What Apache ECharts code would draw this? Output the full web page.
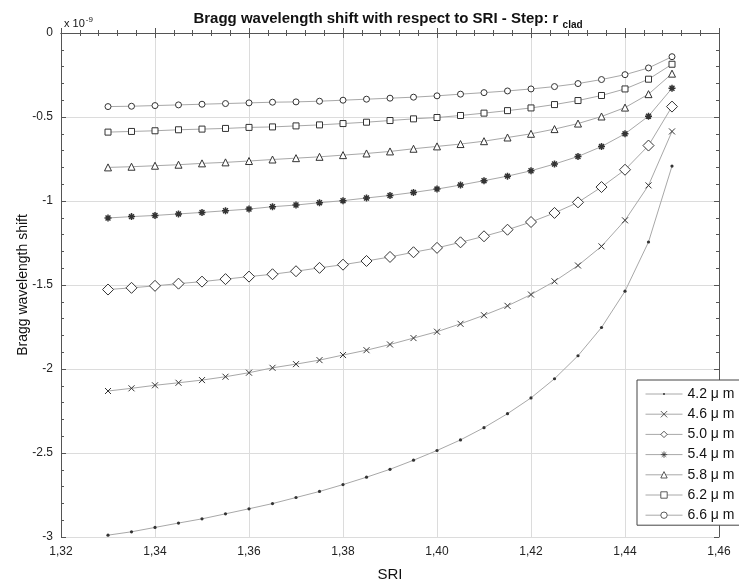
<!DOCTYPE html>
<html>
<head>
<meta charset="utf-8">
<script src="https://cdn.jsdelivr.net/npm/echarts@6/dist/echarts.min.js"></script>
<style>
  html, body { margin: 0; padding: 0; background: #fff; }
  #chart { width: 739px; height: 587px; }
</style>
</head>
<body>
<div id="chart"></div>
<script>
// SRI values (x)
const sri = [1.330, 1.335, 1.340, 1.345, 1.350, 1.355, 1.360, 1.365, 1.370, 1.375,
             1.380, 1.385, 1.390, 1.395, 1.400, 1.405, 1.410, 1.415, 1.420, 1.425,
             1.430, 1.435, 1.440, 1.445, 1.450];

// shift values in units of 1e-9
const r42 = [-2.989, -2.969, -2.943, -2.917, -2.892, -2.862, -2.832, -2.801, -2.765, -2.729,
             -2.688, -2.644, -2.597, -2.543, -2.485, -2.422, -2.349, -2.266, -2.172, -2.058,
             -1.921, -1.753, -1.537, -1.244, -0.792];
const r46 = [-2.131, -2.115, -2.097, -2.082, -2.066, -2.046, -2.022, -1.993, -1.971, -1.947,
             -1.917, -1.888, -1.854, -1.816, -1.778, -1.731, -1.680, -1.624, -1.557, -1.478,
             -1.384, -1.270, -1.115, -0.907, -0.586];
const r50 = [-1.527, -1.517, -1.505, -1.492, -1.480, -1.465, -1.450, -1.436, -1.418, -1.398,
             -1.379, -1.357, -1.333, -1.305, -1.279, -1.246, -1.210, -1.171, -1.125, -1.071,
             -1.008, -0.917, -0.814, -0.670, -0.438];
const r54 = [-1.101, -1.093, -1.086, -1.077, -1.068, -1.058, -1.048, -1.034, -1.024, -1.010,
             -0.998, -0.982, -0.967, -0.949, -0.929, -0.905, -0.879, -0.852, -0.820, -0.780,
             -0.735, -0.676, -0.600, -0.495, -0.329];
const r58 = [-0.800, -0.796, -0.790, -0.784, -0.776, -0.770, -0.762, -0.753, -0.745, -0.737,
             -0.727, -0.717, -0.705, -0.689, -0.675, -0.661, -0.644, -0.622, -0.600, -0.572,
             -0.539, -0.497, -0.444, -0.364, -0.242];
const r62 = [-0.590, -0.586, -0.582, -0.576, -0.572, -0.568, -0.562, -0.559, -0.553, -0.547,
             -0.539, -0.531, -0.521, -0.511, -0.503, -0.491, -0.477, -0.462, -0.446, -0.426,
             -0.402, -0.372, -0.333, -0.275, -0.186];
const r66 = [-0.438, -0.436, -0.432, -0.428, -0.424, -0.420, -0.416, -0.412, -0.410, -0.406,
             -0.400, -0.394, -0.388, -0.382, -0.374, -0.364, -0.355, -0.345, -0.333, -0.319,
             -0.301, -0.277, -0.248, -0.208, -0.141];

const names = ['4.2 μ m', '4.6 μ m', '5.0 μ m', '5.4 μ m', '5.8 μ m', '6.2 μ m', '6.6 μ m'];
const values = [r42, r46, r50, r54, r58, r62, r66];

const FONT = '"Liberation Sans", Arial, sans-serif';
const MARK = '#333';
const LINE = '#a8a8a8';

// marker look per series (the dot is padded so the legend keeps it small)
const markers = [
  { symbol: 'path://M0 0 M10 10 M3.4 5 A1.6 1.6 0 1 0 6.6 5 A1.6 1.6 0 1 0 3.4 5 Z', size: 10, fill: MARK, bw: 0 },
  { symbol: 'path://M0 0 L10 10 M10 0 L0 10', size: 6, fill: MARK, bw: 1 },
  { symbol: 'diamond', size: 11, fill: '#fff', bw: 1 },
  { symbol: 'path://M5 0 L5 10 M0 5 L10 5 M1.5 1.5 L8.5 8.5 M8.5 1.5 L1.5 8.5', size: 7, fill: MARK, bw: 1.5 },
  { symbol: 'triangle', size: 7, fill: '#fff', bw: 1 },
  { symbol: 'rect', size: 6, fill: '#fff', bw: 1 },
  { symbol: 'circle', size: 6, fill: '#fff', bw: 1 }
];

const series = values.map((vals, k) => ({
  name: names[k],
  type: 'line',
  data: sri.map((x, i) => [x, vals[i]]),
  symbol: markers[k].symbol,
  symbolSize: markers[k].size,
  showAllSymbol: true,
  lineStyle: { color: LINE, width: 1 },
  itemStyle: { color: markers[k].fill, borderColor: MARK, borderWidth: markers[k].bw },
  emphasis: { disabled: true },
  z: 3 + k
}));

const legendData = names.map((n, k) => ({
  name: n,
  itemStyle: { color: markers[k].fill, borderColor: MARK, borderWidth: markers[k].bw ? 0.8 : 0 },
  lineStyle: { color: LINE, width: 1 }
}));

const chart = echarts.init(document.getElementById('chart'), null, { renderer: 'canvas' });

const boxAxis = {
  axisLine: { show: true, lineStyle: { color: '#555', width: 1 } },
  axisTick: { show: true, inside: true, length: 5, lineStyle: { color: '#555' } },
  minorTick: { show: true, splitNumber: 5, length: 3, lineStyle: { color: '#555' } },
  axisLabel: { show: false },
  splitLine: { show: false }
};

chart.setOption({
  backgroundColor: '#fff',
  animation: false,
  textStyle: { fontFamily: FONT },
  title: [
    {
      text: 'Bragg wavelength shift with respect to SRI - Step: r {sub|clad}',
      left: 383, top: 3, textAlign: 'center',
      textStyle: {
        fontFamily: FONT, fontSize: 15, fontWeight: 'bold', color: '#111',
        rich: { sub: { fontFamily: FONT, fontSize: 10, fontWeight: 'bold', color: '#111', verticalAlign: 'bottom', padding: [12, 0, 0, 0] } }
      }
    },
    {
      text: 'x 10{sup|-9}',
      left: 59, top: 11,
      textStyle: {
        fontFamily: FONT, fontSize: 11, fontWeight: 'normal', color: '#111',
        rich: { sup: { fontFamily: FONT, fontSize: 8, color: '#111', verticalAlign: 'top', padding: [0, 0, 8, 1] } }
      }
    }
  ],
  grid: { left: 61, right: 20, top: 33, bottom: 49, containLabel: false },
  legend: {
    orient: 'vertical',
    left: 637, top: 380,
    itemWidth: 37, itemHeight: 8, itemGap: 6.2,
    padding: [7, 20, 3, 8],
    backgroundColor: '#fff',
    borderColor: '#444', borderWidth: 1, borderRadius: 0,
    lineStyle: { color: LINE, width: 1 },
    textStyle: { fontFamily: FONT, fontSize: 14, lineHeight: 14, color: '#111' },
    data: legendData
  },
  xAxis: [
    {
      type: 'value', min: 1.32, max: 1.46, interval: 0.02,
      name: 'SRI', nameLocation: 'middle', nameGap: 30, nameMoveOverlap: false,
      nameTextStyle: { fontFamily: FONT, fontSize: 15, color: '#111' },
      axisLine: { show: true, lineStyle: { color: '#555', width: 1 } },
      axisTick: { show: true, inside: true, length: 5, lineStyle: { color: '#555' } },
      minorTick: { show: true, splitNumber: 5, length: 3, lineStyle: { color: '#555' } },
      axisLabel: {
        fontFamily: FONT, fontSize: 12, color: '#222', margin: 9,
        formatter: v => v.toFixed(2).replace('.', ',')
      },
      splitLine: { show: true, lineStyle: { color: '#dcdcdc', width: 1 } }
    },
    Object.assign({ type: 'value', position: 'top', min: 1.32, max: 1.46, interval: 0.02 }, boxAxis)
  ],
  yAxis: [
    {
      type: 'value', min: -3, max: 0, interval: 0.5,
      name: 'Bragg wavelength shift', nameLocation: 'middle', nameGap: 31, nameRotate: 90,
      nameMoveOverlap: false,
      nameTextStyle: { fontFamily: FONT, fontSize: 14, color: '#111' },
      axisLine: { show: true, lineStyle: { color: '#555', width: 1 } },
      axisTick: { show: true, inside: true, length: 5, lineStyle: { color: '#555' } },
      minorTick: { show: true, splitNumber: 5, length: 3, lineStyle: { color: '#555' } },
      axisLabel: {
        fontFamily: FONT, fontSize: 12, color: '#222', margin: 8,
        formatter: v => (v === 0 ? '0' : String(v))
      },
      splitLine: { show: true, lineStyle: { color: '#dcdcdc', width: 1 } }
    },
    Object.assign({ type: 'value', position: 'right', min: -3, max: 0, interval: 0.5 }, boxAxis)
  ],
  series: series
});
</script>
</body>
</html>
